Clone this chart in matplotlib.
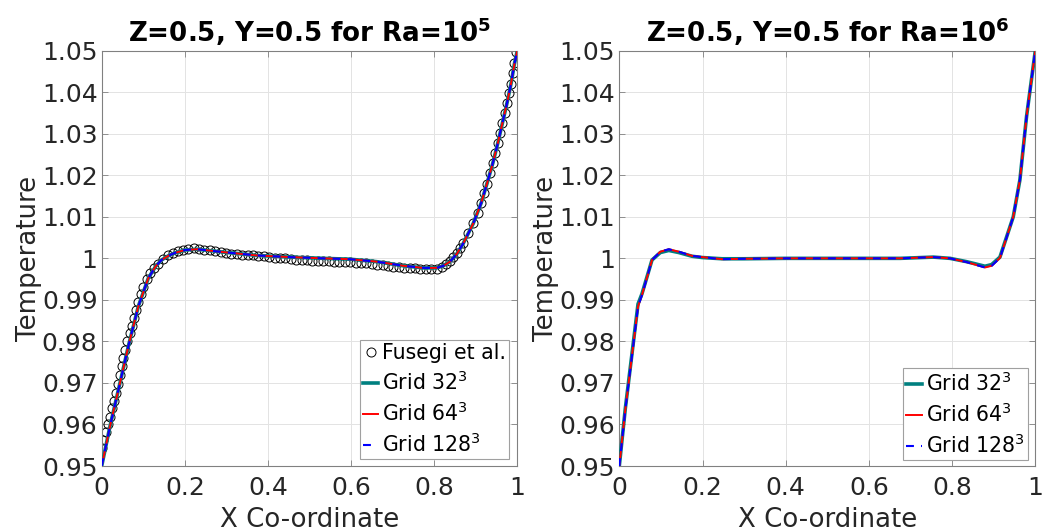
import matplotlib
matplotlib.use("Agg")
import matplotlib.pyplot as plt

# ---------------- data ----------------
# Ra = 1e5, Fusegi et al. benchmark points
fusegi_x = [0.000, 0.004, 0.010, 0.015, 0.020, 0.024, 0.029, 0.034, 0.039, 0.044,
            0.048, 0.052, 0.057, 0.062, 0.067, 0.072, 0.077, 0.082, 0.087, 0.094,
            0.100, 0.108, 0.116, 0.126, 0.136, 0.148, 0.160, 0.172,
            0.184, 0.196, 0.208, 0.221, 0.234, 0.247, 0.260, 0.273, 0.286, 0.299,
            0.312, 0.325, 0.338, 0.351, 0.364, 0.377, 0.390, 0.403, 0.416, 0.429,
            0.442, 0.455, 0.468, 0.481, 0.494, 0.507, 0.520, 0.533, 0.546, 0.559,
            0.572, 0.585, 0.598, 0.611, 0.624, 0.637, 0.650, 0.663, 0.676, 0.689,
            0.702, 0.715, 0.728, 0.741, 0.754, 0.767, 0.780, 0.793, 0.806, 0.818,
            0.828,
            0.838, 0.846, 0.854, 0.862, 0.870, 0.882, 0.894, 0.905, 0.913, 0.921,
            0.927, 0.934, 0.941, 0.947, 0.953, 0.958, 0.964, 0.970, 0.975, 0.980,
            0.985, 0.989, 0.993, 0.997]
fusegi_y = [0.9543, 0.9563, 0.9583, 0.9600, 0.9619, 0.9639, 0.9656, 0.9675, 0.9698, 0.9720,
            0.9740, 0.9760, 0.9780, 0.9800, 0.9820, 0.9837, 0.9857, 0.9876, 0.9895, 0.9915,
            0.9932, 0.9950, 0.9964, 0.9976, 0.9987, 0.9999, 1.0008, 1.0014,
            1.0018, 1.0021, 1.0023, 1.0024, 1.0023, 1.0021, 1.0019, 1.0017, 1.0015, 1.0013,
            1.0011, 1.0010, 1.0009, 1.0008, 1.0007, 1.0006, 1.0005, 1.0004, 1.0002, 1.0001,
            1.0000, 0.9998, 0.9997, 0.9996, 0.9995, 0.9994, 0.9993, 0.9993, 0.9993, 0.9992,
            0.9992, 0.9991, 0.9991, 0.9990, 0.9990, 0.9989, 0.9987, 0.9985, 0.9983, 0.9981,
            0.9980, 0.9978, 0.9977, 0.9976, 0.9976, 0.9975, 0.9975, 0.9974, 0.9975, 0.9980,
            0.9986,
            0.9993, 1.0003, 1.0012, 1.0024, 1.0036, 1.0060, 1.0084, 1.0108, 1.0133, 1.0157,
            1.0180, 1.0205, 1.0229, 1.0253, 1.0277, 1.0301, 1.0325, 1.0349, 1.0373, 1.0397,
            1.0421, 1.0446, 1.0470, 1.0498]

# Ra = 1e5 simulations (all grids overlap)
ra5_x = [0.000, 0.020, 0.044, 0.064, 0.088, 0.112, 0.130, 0.144, 0.160, 0.176,
         0.200, 0.229, 0.293, 0.373, 0.453, 0.533, 0.597, 0.662, 0.726, 0.774,
         0.806, 0.822, 0.838, 0.854, 0.870, 0.894, 0.913, 0.927, 0.941, 0.953,
         0.964, 0.975, 0.985, 0.993, 1.000]
ra5_g32 = [0.9500, 0.9596, 0.9700, 0.9788, 0.9884, 0.9952, 0.9981, 0.9996, 1.0006, 1.0013,
           1.0020, 1.0022, 1.0015, 1.0007, 1.0003, 1.0000, 0.9998, 0.9992, 0.9982, 0.9977,
           0.9977, 0.9982, 0.9992, 1.0010, 1.0036, 1.0084, 1.0133, 1.0180, 1.0229, 1.0277,
           1.0325, 1.0373, 1.0421, 1.0468, 1.0500]
ra5_g64 = [0.9500, 0.9596, 0.9700, 0.9788, 0.9884, 0.9952, 0.9981, 0.9996, 1.0006, 1.0013,
           1.0020, 1.0022, 1.0015, 1.0007, 1.0003, 1.0000, 0.9998, 0.9992, 0.9982, 0.9977,
           0.9977, 0.9982, 0.9992, 1.0010, 1.0036, 1.0084, 1.0133, 1.0180, 1.0229, 1.0277,
           1.0325, 1.0373, 1.0421, 1.0468, 1.0500]
ra5_g128 = [0.9500, 0.9596, 0.9700, 0.9788, 0.9884, 0.9952, 0.9981, 0.9996, 1.0006, 1.0013,
            1.0020, 1.0022, 1.0015, 1.0007, 1.0003, 1.0000, 0.9998, 0.9992, 0.9982, 0.9977,
            0.9977, 0.9982, 0.9992, 1.0010, 1.0036, 1.0084, 1.0133, 1.0180, 1.0229, 1.0277,
            1.0325, 1.0373, 1.0421, 1.0468, 1.0500]

# Ra = 1e6 simulations
ra6_x = [0.000, 0.0144, 0.045, 0.0546, 0.0786, 0.0986, 0.119, 0.143, 0.175, 0.199,
         0.247, 0.300, 0.400, 0.500, 0.600, 0.675, 0.755, 0.795, 0.835, 0.879,
         0.895, 0.915, 0.947, 0.963, 0.979, 1.000]
ra6_g32 = [0.9500, 0.9638, 0.9890, 0.9915, 0.9996, 1.0014, 1.0019, 1.0014, 1.0005, 1.0002,
           0.9999, 0.9999, 1.0000, 1.0000, 1.0000, 1.0000, 1.0003, 1.0000, 0.9992, 0.9981,
           0.9985, 1.0003, 1.0100, 1.0189, 1.0342, 1.0500]
ra6_g64 = [0.9500, 0.9635, 0.9884, 0.9912, 0.9996, 1.0016, 1.0022, 1.0016, 1.0006, 1.0003,
           0.9998, 0.9999, 1.0000, 1.0000, 1.0000, 1.0000, 1.0003, 1.0000, 0.9991, 0.9978,
           0.9982, 1.0001, 1.0100, 1.0189, 1.0342, 1.0500]
ra6_g128 = [0.9500, 0.9635, 0.9884, 0.9912, 0.9996, 1.0016, 1.0022, 1.0016, 1.0006, 1.0003,
            0.9998, 0.9999, 1.0000, 1.0000, 1.0000, 1.0000, 1.0003, 1.0000, 0.9991, 0.9978,
            0.9982, 1.0001, 1.0100, 1.0189, 1.0342, 1.0500]

xticks = [0, 0.2, 0.4, 0.6, 0.8, 1]
xtick_labels = ["0", "0.2", "0.4", "0.6", "0.8", "1"]
yticks = [0.95, 0.96, 0.97, 0.98, 0.99, 1.00, 1.01, 1.02, 1.03, 1.04, 1.05]
ytick_labels = ["0.95", "0.96", "0.97", "0.98", "0.99", "1", "1.01", "1.02", "1.03", "1.04", "1.05"]

titles = [r"Z=0.5, Y=0.5 for Ra=10$^{\mathbf{5}}$", r"Z=0.5, Y=0.5 for Ra=10$^{\mathbf{6}}$"]
legend_labels = ["Fusegi et al.", "Grid 32$^3$", "Grid 64$^3$", "Grid 128$^3$"]

# ---------------- style ----------------
plt.rcParams['font.family'] = ['DejaVu Sans']
plt.rcParams['mathtext.fontset'] = 'dejavusans'
TXT = '#262626'
SPINE = '#808080'
TEAL = '#008080'
RED = '#ff0000'
BLUE = '#0000ff'

fig = plt.figure(figsize=(10.44, 5.31), dpi=100)
W, H = 1044.0, 531.0
ax1 = fig.add_axes([101.7 / W, 65.0 / H, 415.6 / W, 415.3 / H])
ax2 = fig.add_axes([619.3 / W, 65.0 / H, 416.0 / W, 415.3 / H])


def style(ax, title):
    ax.set_xlim(0, 1)
    ax.set_ylim(0.95, 1.05)
    ax.set_xticks(xticks)
    ax.set_xticklabels(xtick_labels)
    ax.set_yticks(yticks)
    ax.set_yticklabels(ytick_labels)
    ax.tick_params(direction='in', length=4, width=0.6, colors=SPINE,
                   labelcolor=TXT, labelsize=18, top=True, right=True, pad=3)
    ax.tick_params(axis='x', pad=7)
    for s in ax.spines.values():
        s.set_color(SPINE)
        s.set_linewidth(0.8)
    ax.grid(True, color='#e3e3e3', linewidth=0.7)
    ax.set_axisbelow(True)
    ax.set_xlabel("X Co-ordinate", fontsize=18.7, color=TXT, labelpad=5)
    ax.set_ylabel("Temperature", fontsize=18.7, color=TXT, labelpad=0)
    ax.set_title(title, fontsize=18.8, fontweight='bold', color='black', pad=6)


def draw_lines(ax, x, g32, g64, g128):
    ax.plot(x, g32, color=TEAL, lw=2.6, label=legend_labels[1], zorder=3)
    ax.plot(x, g64, color=RED, lw=1.4, label=legend_labels[2], zorder=4)
    ax.plot(x, g128, color=BLUE, lw=1.5, ls=(0, (3.8, 3.4)), label=legend_labels[3], zorder=5)


# left panel
ax1.plot(fusegi_x, fusegi_y, 'o', mfc='none', mec='black', ms=6.5, mew=0.7,
         label=legend_labels[0], zorder=2)
draw_lines(ax1, ra5_x, ra5_g32, ra5_g64, ra5_g128)
style(ax1, titles[0])

# right panel
draw_lines(ax2, ra6_x, ra6_g32, ra6_g64, ra6_g128)
style(ax2, titles[1])

for ax, anchor in ((ax1, (0.981, 0.016)), (ax2, (0.982, 0.0145))):
    leg = ax.legend(loc='lower right', bbox_to_anchor=anchor, borderaxespad=0,
                    fontsize=14.8, numpoints=1, handlelength=0.75, handletextpad=0.2,
                    borderpad=0.15, labelspacing=0.36, fancybox=False, framealpha=1,
                    edgecolor='#a0a0a0')
    leg.get_frame().set_linewidth(0.8)
    for t in leg.get_texts():
        t.set_color('black')

fig.savefig("out.png", dpi=100, facecolor='white')
